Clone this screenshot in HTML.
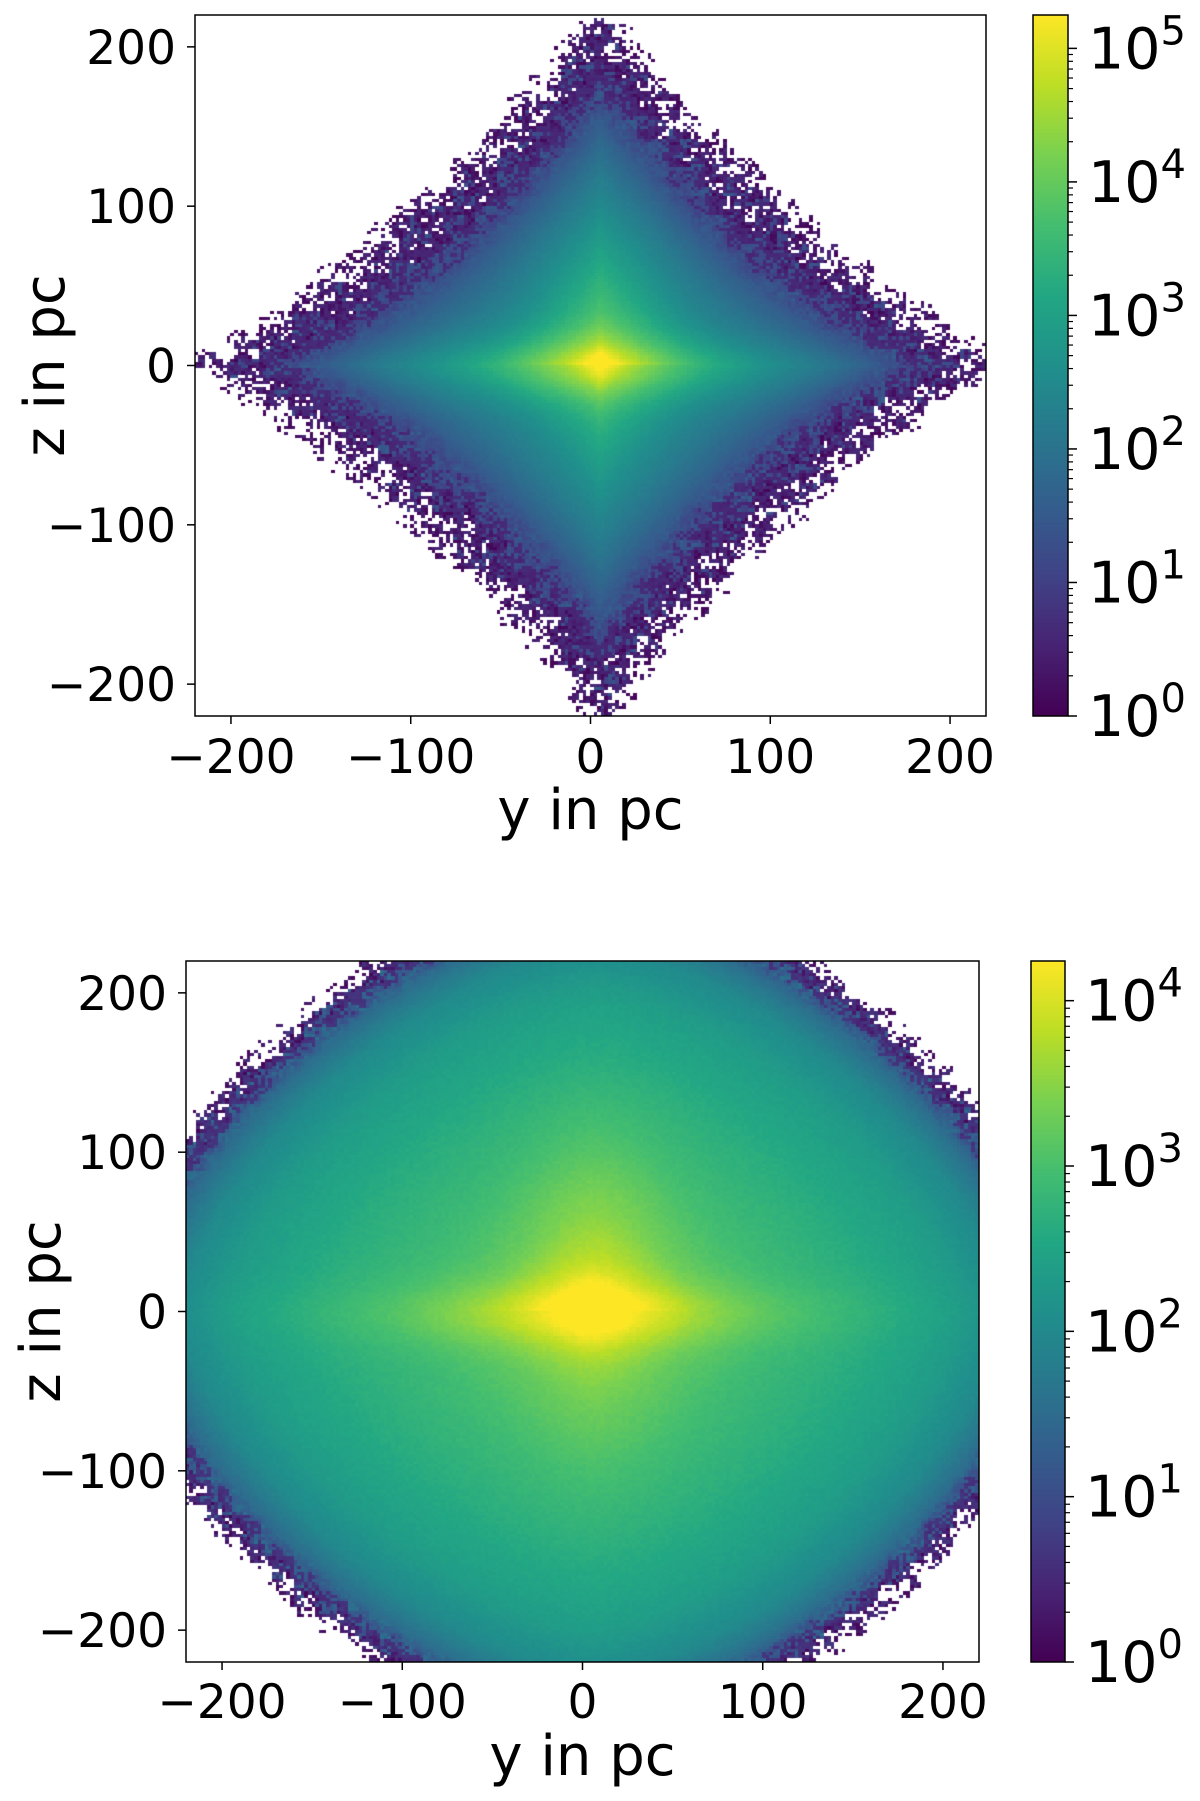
<!DOCTYPE html>
<html><head><meta charset="utf-8">
<style>
html,body{margin:0;padding:0;background:#fff;}
#wrap{position:relative;width:1200px;height:1801px;overflow:hidden;}
canvas{position:absolute;}
svg{position:absolute;left:0;top:0;}
text{font-family:"DejaVu Sans","Liberation Sans",sans-serif;fill:#000;}
</style></head>
<body>
<div id="wrap">
<canvas id="c1"></canvas>
<canvas id="c2"></canvas>
<canvas id="cb1"></canvas>
<canvas id="cb2"></canvas>
<svg id="ov" width="1200" height="1801"></svg>
</div>
<script>
// ---- data (log10 counts) ----
const xTicks = [-200,-100,0,100,200];
const yTicks = [-200,-100,0,100,200];
const cbDecadesTop = [0,1,2,3,4,5];
const cbDecadesBottom = [0,1,2,3,4];
const cbMaxTop = 5.25;
const cbMaxBottom = 4.24;
// top panel: profile vs concave-diamond distance (p=0.85), disk and plume enhancements
const topProfileD = [0,20,40,60,80,100,120,140,160,180,200,220,240,260];
const topProfileV = [4.3,3.5,3.1,2.8,2.5,2.25,2.0,1.7,1.35,1.0,0.7,0.35,-0.5,-4];
const topDiskY = [0,25,50,75,100,150,200,240];
const topDiskV = [0.9,0.8,0.6,0.45,0.3,0.12,0.05,0];
const topPlumeZ = [0,25,50,75,100,150,220];
const topPlumeV = [0.55,0.55,0.5,0.4,0.25,0.1,0];
// bottom panel: profile vs superellipse distance (p=1.5)
const botProfileD = [0,30,60,100,150,200,230,250,265,280,300];
const botProfileV = [3.9,3.45,3.15,2.9,2.65,2.35,2.0,1.5,0.8,-0.3,-4];
const botDiskY = [0,25,50,75,100,150,200,240];
const botDiskV = [0.6,0.55,0.5,0.38,0.25,0.12,0.05,0];
const botPlumeZ = [0,25,50,75,100,150,220];
const botPlumeV = [0.4,0.4,0.35,0.3,0.2,0.05,0];

const viridis=[[68,1,84],[72,35,116],[64,67,135],[52,94,141],[41,120,142],[32,144,140],[34,167,132],[68,190,112],[121,209,81],[189,222,38],[253,231,37]];
function cmap(t){t=Math.max(0,Math.min(1,t));const f=t*(viridis.length-1);const i=Math.min(Math.floor(f),viridis.length-2);const u=f-i;const a=viridis[i],b=viridis[i+1];return [a[0]+(b[0]-a[0])*u,a[1]+(b[1]-a[1])*u,a[2]+(b[2]-a[2])*u];}
function lerpArr(xs,vs,x){if(x<=xs[0])return vs[0];for(let i=1;i<xs.length;i++){if(x<=xs[i]){const u=(x-xs[i-1])/(xs[i]-xs[i-1]);return vs[i-1]+(vs[i]-vs[i-1])*u;}}return vs[vs.length-1];}
function hash(i,j){let h=i*374761393+j*668265263;h=(h^(h>>>13))*1274126177;h=h^(h>>>16);return (h>>>0)/4294967296;}

const panels=[
 {cv:'c1',cb:'cb1',L:195,R:986,T:15,B:716,cbL:1033,cbR:1068,max:cbMaxTop,dec:cbDecadesTop,norm:0.85,
  pD:topProfileD,pV:topProfileV,dY:topDiskY,dV:topDiskV,pZ:topPlumeZ,pV2:topPlumeV,
  xt:773,title:829,zx:44,yl:176,cbLabX:1088},
 {cv:'c2',cb:'cb2',L:186,R:979,T:961,B:1662,cbL:1031,cbR:1065,max:cbMaxBottom,dec:cbDecadesBottom,norm:1.5,
  pD:botProfileD,pV:botProfileV,dY:botDiskY,dV:botDiskV,pZ:botPlumeZ,pV2:botPlumeV,
  xt:1718,title:1775,zx:40,yl:167,cbLabX:1085}
];
const ov=document.getElementById('ov');
const NS='http://www.w3.org/2000/svg';
function el(tag,attrs,txt){const e=document.createElementNS(NS,tag);for(const k in attrs)e.setAttribute(k,attrs[k]);if(txt!==undefined)e.textContent=txt;ov.appendChild(e);return e;}

panels.forEach((p,pi)=>{
 const c=document.getElementById(p.cv);
 const W=Math.round(p.R-p.L),H=Math.round(p.B-p.T);
 c.width=W;c.height=H;c.style.left=p.L+'px';c.style.top=p.T+'px';
 const ctx=c.getContext('2d');const img=ctx.createImageData(W,H);
 const N=220,cell=440/N;
 const sx=v=>(v+220)/440*W, sy=v=>(220-v)/440*H;
 for(let i=0;i<N;i++)for(let j=0;j<N;j++){
  const y=-220+(i+0.5)*cell, z=220-(j+0.5)*cell;
  const ay=Math.abs(y-6), az=Math.abs(z);
  const d=Math.pow(Math.pow(ay,p.norm)+Math.pow(az,p.norm),1/p.norm);
  let v=lerpArr(p.pD,p.pV,d);
  v+=lerpArr(p.dY,p.dV,Math.abs(y))*Math.exp(-Math.pow((z+2)/20,2));
  v+=lerpArr(p.pZ,p.pV2,az)*Math.exp(-Math.pow((y-8)/40,2))*(z>0?1:0.45);
  const h=hash(i+pi*1000,j);
  const hc=hash(Math.floor(i/3)+pi*77,Math.floor(j/3)+13);
  if(v<1.6){const w=Math.min(1,(1.6-v)/1.0);v+=((hc-0.6)*1.0+(h-0.55)*1.3)*w;}
  else v+=(h-0.5)*0.08;
  if(v<0.05) continue;
  if(v<1.0) v=Math.min(v,0.3+v*0.4);
  const col=cmap(Math.max(0,v)/p.max);
  const x0=Math.floor(sx(y-cell/2)),x1=Math.floor(sx(y+cell/2)),y0=Math.floor(sy(z+cell/2)),y1=Math.floor(sy(z-cell/2));
  for(let px=x0;px<x1;px++)for(let py=y0;py<y1;py++){if(px<0||py<0||px>=W||py>=H)continue;const k=(py*W+px)*4;img.data[k]=col[0];img.data[k+1]=col[1];img.data[k+2]=col[2];img.data[k+3]=255;}
 }
 ctx.putImageData(img,0,0);
 const cb=document.getElementById(p.cb);const cw=Math.round(p.cbR-p.cbL);
 cb.width=cw;cb.height=H;cb.style.left=p.cbL+'px';cb.style.top=p.T+'px';
 const cx=cb.getContext('2d');
 for(let r=0;r<H;r++){const col=cmap(1-r/H);cx.fillStyle=`rgb(${col[0]|0},${col[1]|0},${col[2]|0})`;cx.fillRect(0,r,cw,1);}
 const fr=el('rect',{x:p.L,y:p.T,width:p.R-p.L,height:p.B-p.T,fill:'none',stroke:'#000','stroke-width':1.5});
 
 
 const cf=el('rect',{x:p.cbL,y:p.T,width:p.cbR-p.cbL,height:p.B-p.T,fill:'none',stroke:'#000','stroke-width':1.5});
 
 
 const X=v=>p.L+(v+220)/440*(p.R-p.L), Y=v=>p.T+(220-v)/440*(p.B-p.T);
 xTicks.forEach(t=>{
  el('line',{x1:X(t),x2:X(t),y1:p.B,y2:p.B+8,stroke:'#000','stroke-width':1.5});
  const tx=el('text',{x:X(t),y:p.xt,'font-size':47,'text-anchor':'middle'},t<0?'\u2212'+(-t):String(t));
  
  
 });
 yTicks.forEach(t=>{
  el('line',{x1:p.L-8,x2:p.L,y1:Y(t),y2:Y(t),stroke:'#000','stroke-width':1.5});
  const tx=el('text',{x:p.yl,y:Y(t)+17,'font-size':47,'text-anchor':'end'},t<0?'\u2212'+(-t):String(t));
  
  
 });
 const xt=el('text',{x:(p.L+p.R)/2,y:p.title,'font-size':56,'text-anchor':'middle'},'y in pc');
 
 
 const cy=(p.T+p.B)/2;
 const yt=el('text',{x:p.zx+20,y:cy,'font-size':56,'text-anchor':'middle',transform:`rotate(-90 ${p.zx+20} ${cy})`},'z in pc');
 
 
 const CY=v=>p.B-v/p.max*(p.B-p.T);
 p.dec.forEach(dv=>{
  el('line',{x1:p.cbR,x2:p.cbR+9,y1:CY(dv),y2:CY(dv),stroke:'#000','stroke-width':1.5});
  for(let m=2;m<10;m++){const mv=dv+Math.log10(m);if(mv<=p.max)el('line',{x1:p.cbR,x2:p.cbR+5,y1:CY(mv),y2:CY(mv),stroke:'#000','stroke-width':1.2});}
  const t=el('text',{x:p.cbLabX,y:CY(dv)+20,'font-size':57},'10');
  
  
  const ts=document.createElementNS(NS,'tspan');ts.setAttribute('font-size',40);ts.setAttribute('dy',-24);ts.textContent=String(dv);t.appendChild(ts);
 });
});
</script>
</body></html>
